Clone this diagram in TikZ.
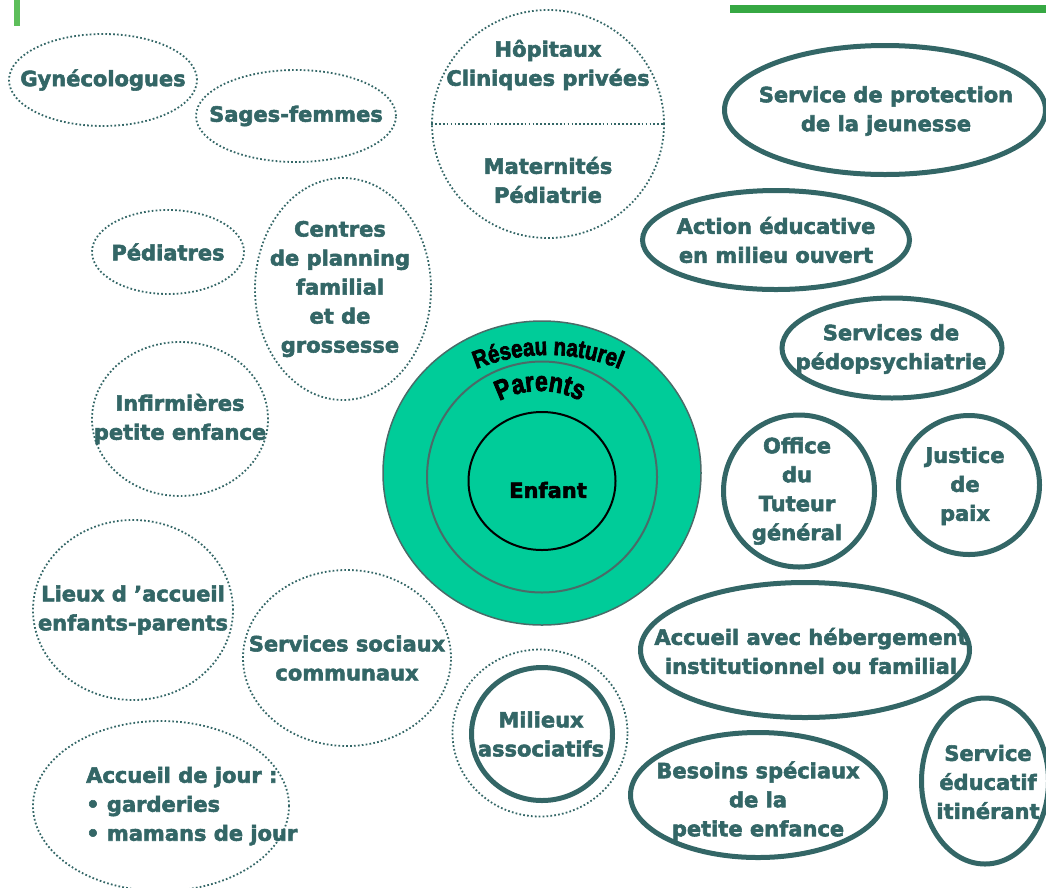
\documentclass[tikz,border=0pt]{standalone}
\usepackage{fontspec}
\setmainfont{DejaVu Sans}[BoldFeatures={FakeBold=2.6}]
\newfontfamily\arcfont{Liberation Sans Bold}[FakeStretch=0.82, FakeBold=2.6]
\usetikzlibrary{shapes.geometric, decorations.text}
\definecolor{netteal}{HTML}{336666}
\definecolor{netfill}{HTML}{00CC99}
\definecolor{netring}{HTML}{4A6B68}
\definecolor{bargreen}{HTML}{36A843}
\definecolor{barlight}{HTML}{5DBE5A}

\begin{document}
\begin{tikzpicture}[x=1pt, y=-1pt,
  dotbub/.style={draw=netteal, ellipse, inner sep=0pt, line width=1.8pt, dash pattern=on 1.7pt off 2.2pt},
  solbub/.style={draw=netteal, ellipse, inner sep=0pt, line width=5pt},
  ring/.style={ellipse, inner sep=0pt},
  lbl/.style={align=center, text=netteal, font=\bfseries\fontsize{21}{29}\selectfont, inner sep=0pt},
  arch/.style={decorate, decoration={text along path, text align=center, text color=black}}
]
\useasboundingbox (0,0) rectangle (1046,887);
\clip (0,0) rectangle (1046,887);

% bars
\fill[barlight] (14,0) rectangle (20,26);
\fill[bargreen] (730,5) rectangle (1046,13);

% centre
\node[ring, fill=netfill, draw=netring, line width=1.5pt, minimum width=318pt, minimum height=304pt] (reseau) at (542,473) {};
\node[ring, draw=netring, line width=2pt, minimum width=230pt, minimum height=231pt] (parents) at (542,477) {};
\node[ring, draw=black, line width=2pt, minimum width=147pt, minimum height=138pt] (enfant) at (542,481) {};
\node[lbl, text=black] (enfant-t) at (548,490) {Enfant};
\path[arch, decoration={text={|\arcfont\fontsize{25}{25}\selectfont|Réseau naturel}}]
  (548,545) ++(-140:190) arc[start angle=-140, end angle=-40, radius=190];
\path[arch, decoration={text={|\arcfont\fontsize{28}{28}\selectfont|Parents}}]
  (540,478) ++(-150:87) arc[start angle=-150, end angle=-30, radius=87];

% left, dotted
\node[dotbub, minimum width=188pt, minimum height=92pt] (gyn) at (103,80) {};
\node[lbl] (gyn-t) at (gyn) {Gynécologues};
\node[dotbub, minimum width=200pt, minimum height=92pt] (sages) at (296,116) {};
\node[lbl] (sages-t) at (sages) {Sages-femmes};
\node[dotbub, minimum width=232pt, minimum height=228pt] (hop) at (548,124) {};
\draw[netteal, line width=1.8pt, dash pattern=on 1.7pt off 2.2pt] (hop.west) -- (hop.east);
\node[lbl] (hop-t) at (548,65) {Hôpitaux\\Cliniques privées};
\node[lbl] (mat-t) at (548,180) {Maternités\\Pédiatrie};
\node[dotbub, minimum width=152pt, minimum height=84pt] (ped) at (168,252) {};
\node[lbl] (ped-t) at (ped) {Pédiatres};
\node[dotbub, minimum width=176pt, minimum height=222pt] (cpf) at (343,289) {};
\node[lbl] (cpf-t) at (340,289) {Centres\\de planning\\familial\\et de\\grossesse};
\node[dotbub, minimum width=176pt, minimum height=154pt] (inf) at (180,419) {};
\node[lbl] (inf-t) at (inf) {Infirmières\\petite enfance};
\node[dotbub, minimum width=200pt, minimum height=180pt] (lieux) at (133,610) {};
\node[lbl] (lieux-t) at (lieux) {Lieux d ’accueil\\enfants-parents};
\node[dotbub, minimum width=208pt, minimum height=176pt] (ssc) at (347,658) {};
\node[lbl] (ssc-t) at (ssc) {Services sociaux\\communaux};
\node[dotbub, minimum width=256pt, minimum height=170pt] (adj) at (161,806) {};
\node[lbl, align=left, anchor=west] (adj-t) at (86,806) {Accueil de jour :\\• garderies\\• mamans de jour};
\node[dotbub, minimum width=175pt, minimum height=167pt] (mil) at (540,733) {};
\node[solbub, minimum width=141pt, minimum height=133pt] (mil-in) at (542,734) {};
\node[lbl] (mil-t) at (541,734) {Milieux\\associatifs};

% right, solid
\node[solbub, minimum width=321pt, minimum height=129pt] (spj) at (885,110) {};
\node[lbl] (spj-t) at (886,111) {Service de protection\\de la jeunesse};
\node[solbub, minimum width=267pt, minimum height=99pt] (aemo) at (776,240) {};
\node[lbl] (aemo-t) at (aemo) {Action éducative\\en milieu ouvert};
\node[solbub, minimum width=220pt, minimum height=100pt] (pedo) at (892,348) {};
\node[lbl] (pedo-t) at (891,349) {Services de\\pédopsychiatrie};
\node[solbub, minimum width=151pt, minimum height=152pt] (otg) at (799,491) {};
\node[lbl] (otg-t) at (797,491) {Office\\du\\Tuteur\\général};
\node[solbub, minimum width=141pt, minimum height=139pt] (jdp) at (969,485) {};
\node[lbl] (jdp-t) at (965,486) {Justice\\de\\paix};
\node[solbub, minimum width=329pt, minimum height=135pt] (ahif) at (805,650) {};
\node[lbl] (ahif-t) at (811,651) {Accueil avec hébergement\\institutionnel ou familial};
\node[solbub, minimum width=255pt, minimum height=125pt] (bspe) at (758,795) {};
\node[lbl] (bspe-t) at (758,801) {Besoins spéciaux\\de la\\petite enfance};
\node[solbub, minimum width=127pt, minimum height=166pt] (sei) at (985,781) {};
\node[lbl] (sei-t) at (988,782) {Service\\éducatif\\itinérant};
\end{tikzpicture}
\end{document}
